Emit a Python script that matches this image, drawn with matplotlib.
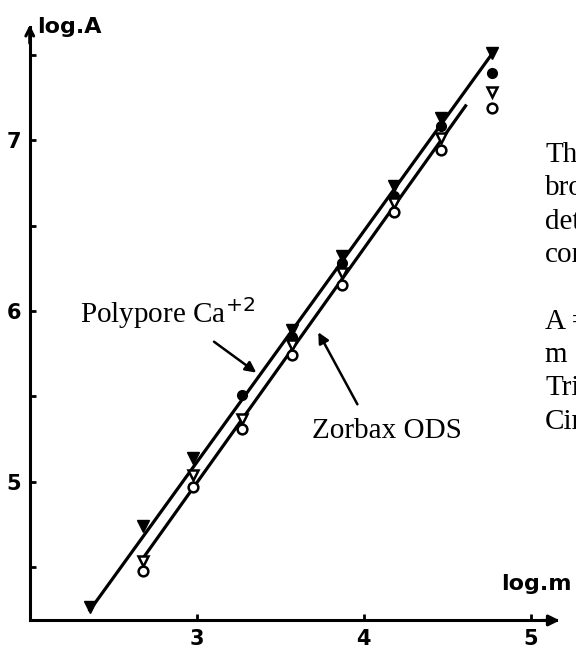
import matplotlib.pyplot as plt

# log.m positions of the measured points
xm = [2.68, 2.98, 3.27, 3.57, 3.87, 4.18, 4.46, 4.77]

# Polypore Ca+2 (filled markers)
poly_tri_x = [2.36, 2.68, 2.98, 3.57, 3.87, 4.18, 4.46, 4.77]
poly_tri_y = [4.27, 4.74, 5.14, 5.89, 6.32, 6.73, 7.13, 7.51]
poly_circ_x = [3.27, 3.57, 3.87, 4.18, 4.46, 4.77]
poly_circ_y = [5.51, 5.85, 6.28, 6.67, 7.08, 7.39]

# Zorbax ODS (open markers)
zorb_tri_y = [4.54, 5.04, 5.37, 5.80, 6.22, 6.63, 7.01, 7.28]
zorb_circ_y = [4.48, 4.97, 5.31, 5.74, 6.15, 6.58, 6.94, 7.19]

# fitted straight lines
poly_line_x = [2.36, 4.78]
poly_line_y = [4.25, 7.52]
zorb_line_x = [2.69, 4.61]
zorb_line_y = [4.57, 7.20]

ytick_vals = [4.5, 5, 5.5, 6, 6.5, 7, 7.5]
ytick_labels = ['', '5', '', '6', '', '7', '']
xtick_vals = [3, 4, 5]
xtick_labels = ['3', '4', '5']

side_text = ['The', 'bro', 'det', 'con', '', 'A =', 'm =', 'Tri', 'Cir']

fig = plt.figure(figsize=(5.76, 6.49), dpi=100)
ax = fig.add_axes([0, 0, 1, 1])
ax.set_xlim(1.822, 5.271)
ax.set_ylim(4.023, 7.819)

for s in ['top', 'right']:
    ax.spines[s].set_visible(False)
ax.spines['left'].set_position(('data', 2.0))
ax.spines['bottom'].set_position(('data', 4.19))
ax.spines['left'].set_bounds(4.19, 7.66)
ax.spines['bottom'].set_bounds(2.0, 5.15)
for s in ['left', 'bottom']:
    ax.spines[s].set_linewidth(2.2)

ax.set_yticks(ytick_vals)
ax.set_yticklabels(ytick_labels)
ax.set_xticks(xtick_vals)
ax.set_xticklabels(xtick_labels)
ax.tick_params(direction='in', length=4.5, width=2, pad=6, labelsize=15)
for lab in ax.get_xticklabels() + ax.get_yticklabels():
    lab.set_fontweight('bold')

# axis arrows
ax.annotate('', xy=(2.0, 7.69), xytext=(2.0, 7.55),
            arrowprops=dict(arrowstyle='->', lw=2.2, color='k', mutation_scale=14))
ax.annotate('', xy=(5.19, 4.19), xytext=(5.05, 4.19),
            arrowprops=dict(arrowstyle='-|>', lw=2.2, color='k', mutation_scale=16))

ax.text(2.044, 7.626, 'log.A', fontsize=16, fontweight='bold', va='baseline')
ax.text(4.82, 4.368, 'log.m', fontsize=16, fontweight='bold', va='baseline')

# lines
ax.plot(poly_line_x, poly_line_y, color='k', lw=2.3)
ax.plot(zorb_line_x, zorb_line_y, color='k', lw=2.3)

# markers
ax.plot(poly_tri_x, poly_tri_y, 'v', color='k', ms=8, ls='none')
ax.plot(poly_circ_x, poly_circ_y, 'o', color='k', ms=7, ls='none')
ax.plot(xm, zorb_tri_y, 'v', mfc='white', mec='k', mew=1.8, ms=7, ls='none')
ax.plot(xm, zorb_circ_y, 'o', mfc='white', mec='k', mew=1.8, ms=7, ls='none')

# labels with arrows
serif = 'Liberation Serif'
ax.text(2.30, 5.93, 'Polypore Ca$^{+2}$', family=serif, fontsize=21, va='baseline')
ax.annotate('', xy=(3.37, 5.63), xytext=(3.09, 5.83),
            arrowprops=dict(arrowstyle='-|>', lw=1.8, color='k', mutation_scale=16))
ax.text(3.69, 5.26, 'Zorbax ODS', family=serif, fontsize=21, va='baseline')
ax.annotate('', xy=(3.72, 5.89), xytext=(3.97, 5.44),
            arrowprops=dict(arrowstyle='-|>', lw=1.8, color='k', mutation_scale=16))

# text running off the right edge, as in the scanned page
y0 = 6.871
for i, t in enumerate(side_text):
    if t:
        ax.text(5.086, y0 - i * 0.195, t, family=serif, fontsize=21, va='baseline', clip_on=False)

fig.savefig('out.png', dpi=100)
